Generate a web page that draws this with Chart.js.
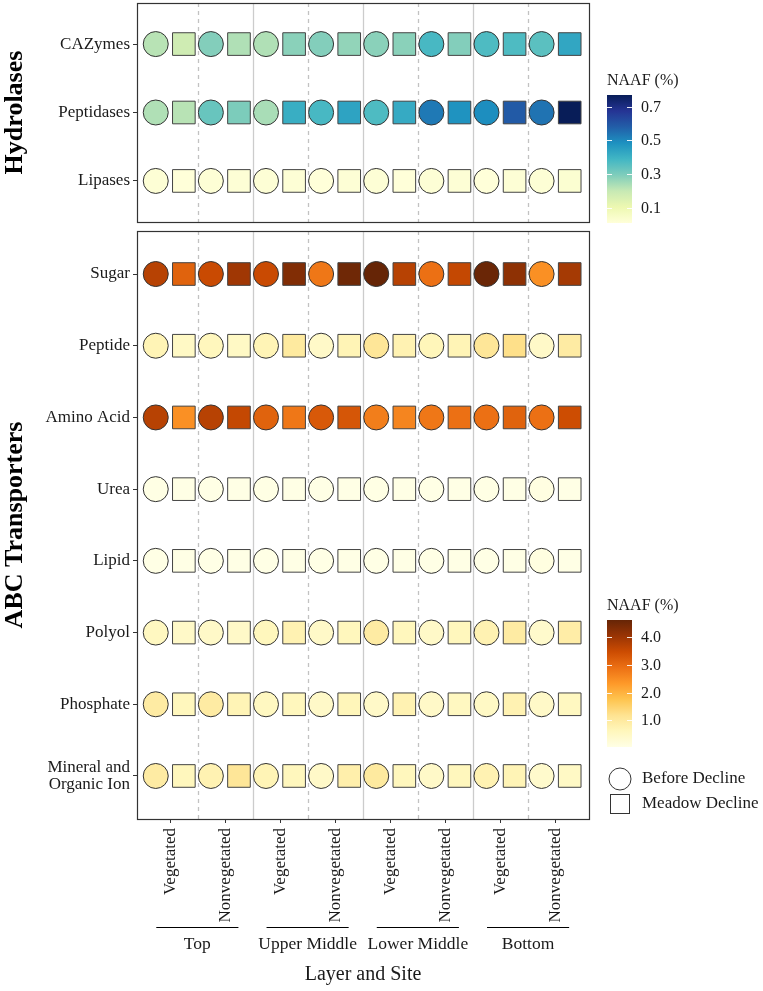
<!DOCTYPE html>
<html>
<head>
<meta charset="utf-8">
<title>NAAF - Hydrolases and ABC Transporters</title>
<script src="https://cdn.jsdelivr.net/npm/chart.js@4.4.1/dist/chart.umd.min.js"></script>
<style>
  body { margin: 0; background: #fff; }
  #wrap { position: relative; width: 763px; height: 991px; }
  canvas { position: absolute; left: 0; }
  #top { top: 0; }
  #bottom { top: 226px; }
</style>
</head>
<body>
<div id="wrap">
  <canvas id="top" width="763" height="226"></canvas>
  <canvas id="bottom" width="763" height="765"></canvas>
</div>
<script>
// categories
const layers = ["Top", "Upper Middle", "Lower Middle", "Bottom"];
const sites = ["Vegetated", "Nonvegetated"];
const hydroRows = ["CAZymes", "Peptidases", "Lipases"];
const abcRows = ["Sugar", "Peptide", "Amino Acid", "Urea", "Lipid", "Polyol", "Phosphate", ["Mineral and", "Organic Ion"]];

// NAAF (%) - columns: Top Veg, Top Nonveg, UM Veg, UM Nonveg, LM Veg, LM Nonveg, Bottom Veg, Bottom Nonveg
const hydroBefore = [
  [0.22, 0.29, 0.23, 0.29, 0.28, 0.38, 0.37, 0.35],
  [0.23, 0.33, 0.24, 0.38, 0.37, 0.53, 0.49, 0.54],
  [0.02, 0.02, 0.02, 0.01, 0.02, 0.02, 0.01, 0.02]
];
const hydroDecline = [
  [0.18, 0.23, 0.28, 0.27, 0.28, 0.29, 0.37, 0.43],
  [0.22, 0.30, 0.41, 0.44, 0.42, 0.48, 0.59, 0.77],
  [0.01, 0.02, 0.02, 0.02, 0.01, 0.02, 0.02, 0.03]
];
const abcBefore = [
  [3.7, 3.5, 3.5, 2.8, 4.6, 2.9, 4.55, 2.45],
  [0.7, 0.6, 0.7, 0.45, 1.1, 0.65, 1.1, 0.45],
  [3.7, 3.7, 3.1, 3.25, 2.7, 2.8, 2.9, 2.9],
  [0.06, 0.05, 0.06, 0.05, 0.06, 0.05, 0.06, 0.1],
  [0.05, 0.05, 0.05, 0.05, 0.05, 0.05, 0.05, 0.12],
  [0.55, 0.45, 0.6, 0.45, 0.95, 0.45, 0.75, 0.4],
  [0.95, 0.95, 0.55, 0.45, 0.45, 0.45, 0.5, 0.45],
  [0.95, 0.75, 0.7, 0.45, 1.0, 0.45, 0.75, 0.4]
];
const abcDecline = [
  [3.1, 3.95, 4.3, 4.5, 3.7, 3.55, 4.15, 3.9],
  [0.5, 0.5, 1.0, 0.7, 0.75, 0.7, 1.25, 0.95],
  [2.45, 3.55, 2.8, 3.3, 2.6, 2.9, 3.1, 3.45],
  [0.05, 0.05, 0.05, 0.05, 0.05, 0.05, 0.05, 0.05],
  [0.05, 0.05, 0.05, 0.05, 0.05, 0.05, 0.05, 0.05],
  [0.45, 0.45, 0.75, 0.6, 0.6, 0.6, 0.95, 0.9],
  [0.6, 0.7, 0.6, 0.65, 0.75, 0.55, 0.75, 0.55],
  [0.6, 1.1, 0.6, 0.85, 0.6, 0.6, 0.7, 0.5]
];
const hydroTicks = [0.1, 0.3, 0.5, 0.7];
const abcTicks = [1.0, 2.0, 3.0, 4.0];

const ylGnBu = ["#ffffd9", "#edf8b1", "#c7e9b4", "#7fcdbb", "#41b6c4", "#1d91c0", "#225ea8", "#253494", "#081d58"];
const ylOrBr = ["#ffffe5", "#fff7bc", "#fee391", "#fec44f", "#fe9929", "#ec7014", "#cc4c02", "#993404", "#662506"];

const FONT = '"Liberation Serif", "Times New Roman", serif';
const columns = [];
layers.forEach(l => sites.forEach(s => columns.push(s)));

function hexToRgb(h) {
  return [parseInt(h.slice(1, 3), 16), parseInt(h.slice(3, 5), 16), parseInt(h.slice(5, 7), 16)];
}

function colourScale(palette, vmin, vmax) {
  const rgb = palette.map(hexToRgb);
  return v => {
    let t = (v - vmin) / (vmax - vmin);
    t = Math.max(0, Math.min(1, t)) * (rgb.length - 1);
    const i = Math.min(Math.floor(t), rgb.length - 2);
    const f = t - i;
    const c = rgb[i].map((a, k) => Math.round(a + (rgb[i + 1][k] - a) * f));
    return `rgb(${c[0]},${c[1]},${c[2]})`;
  };
}

function points(values, shift) {
  const pts = [];
  values.forEach((row, r) => row.forEach((v, c) => pts.push({ x: c + shift, y: r, v: v })));
  return pts;
}

function drawColourBar(ctx, palette, vmin, vmax, ticks, x, top, bottom, titleY) {
  const w = 25;
  ctx.save();
  ctx.fillStyle = "#1a1a1a";
  ctx.font = "16px " + FONT;
  ctx.textAlign = "left";
  ctx.textBaseline = "middle";
  ctx.fillText("NAAF (%)", x, titleY);
  const g = ctx.createLinearGradient(0, bottom, 0, top);
  palette.forEach((c, i) => g.addColorStop(i / (palette.length - 1), c));
  ctx.fillStyle = g;
  ctx.fillRect(x, top, w, bottom - top);
  ctx.strokeStyle = "rgba(255,255,255,0.9)";
  ctx.lineWidth = 1;
  ticks.forEach(t => {
    const y = Math.round(bottom - (t - vmin) / (vmax - vmin) * (bottom - top)) + 0.5;
    ctx.beginPath();
    ctx.moveTo(x, y); ctx.lineTo(x + 5, y);
    ctx.moveTo(x + w - 5, y); ctx.lineTo(x + w, y);
    ctx.stroke();
    ctx.fillStyle = "#1a1a1a";
    ctx.fillText(t.toFixed(1), x + w + 9, y);
  });
  ctx.restore();
}

function panelPlugin(title, extra) {
  return {
    id: "panel",
    beforeDatasetsDraw(chart) {
      const { ctx, chartArea: a, scales: { x } } = chart;
      ctx.save();
      for (let i = 0; i < columns.length - 1; i++) {
        const px = Math.round(x.getPixelForValue(i + 0.5)) + 0.5;
        ctx.beginPath();
        if (i % 2 === 0) {
          ctx.setLineDash([4, 4]);
          ctx.strokeStyle = "#c2c2c2";
        } else {
          ctx.setLineDash([]);
          ctx.strokeStyle = "#cccccc";
        }
        ctx.lineWidth = 1.3;
        ctx.moveTo(px, a.top);
        ctx.lineTo(px, a.bottom);
        ctx.stroke();
      }
      ctx.restore();
    },
    afterDraw(chart) {
      const { ctx, chartArea: a } = chart;
      ctx.save();
      ctx.strokeStyle = "#333";
      ctx.lineWidth = 1.2;
      ctx.strokeRect(a.left + 0.5, a.top + 0.5, a.right - a.left, a.bottom - a.top);
      ctx.translate(15, (a.top + a.bottom) / 2);
      ctx.rotate(-Math.PI / 2);
      ctx.fillStyle = "#000";
      ctx.font = "bold 26px " + FONT;
      ctx.textAlign = "center";
      ctx.textBaseline = "middle";
      ctx.fillText(title, 0, 0);
      ctx.restore();
      extra(chart);
    }
  };
}

function makeChart(id, rows, before, decline, palette, opts) {
  const all = before.flat().concat(decline.flat());
  const vmin = Math.min(...all);
  const vmax = Math.max(...all);
  const col = colourScale(palette, vmin, vmax);
  const fill = c => col(c.raw.v);
  return new Chart(document.getElementById(id), {
    type: "scatter",
    data: {
      datasets: [
        {
          label: "Before Decline",
          data: points(before, -0.26),
          pointStyle: "circle",
          pointRadius: 12.5,
          pointHoverRadius: 12.5,
          backgroundColor: fill,
          borderColor: "#333",
          borderWidth: 1
        },
        {
          label: "Meadow Decline",
          data: points(decline, 0.25),
          pointStyle: "rect",
          pointRadius: 16,
          pointHoverRadius: 16,
          backgroundColor: fill,
          borderColor: "#444",
          borderWidth: 1
        }
      ]
    },
    options: {
      responsive: false,
      animation: false,
      devicePixelRatio: 1,
      events: [],
      layout: { padding: opts.padding, autoPadding: false },
      plugins: { legend: { display: false }, tooltip: { enabled: false } },
      scales: {
        x: {
          type: "linear",
          min: -0.6,
          max: columns.length - 0.4,
          display: opts.showX,
          afterBuildTicks: s => { s.ticks = columns.map((c, i) => ({ value: i })); },
          afterFit: s => {
            if (opts.xHeight) s.height = opts.xHeight;
            s.paddingLeft = 0;
            s.paddingRight = 0;
          },
          ticks: {
            autoSkip: false,
            minRotation: 90,
            maxRotation: 90,
            padding: 5,
            color: "#1a1a1a",
            font: { family: FONT, size: 17 },
            callback: v => columns[v]
          },
          grid: { drawOnChartArea: false, drawTicks: true, tickLength: 4, color: "#333" },
          border: { display: false }
        },
        y: {
          type: "linear",
          reverse: true,
          min: -0.6,
          max: rows.length - 0.4,
          afterBuildTicks: s => { s.ticks = rows.map((r, i) => ({ value: i })); },
          afterFit: s => {
            s.width = 137;
            s.paddingTop = 0;
            s.paddingBottom = 0;
          },
          ticks: {
            padding: 3,
            color: "#1a1a1a",
            font: { family: FONT, size: 17, lineHeight: 1.05 },
            callback: v => rows[v]
          },
          grid: { drawOnChartArea: false, drawTicks: true, tickLength: 4, color: "#333" },
          border: { display: false }
        }
      }
    },
    plugins: [panelPlugin(opts.title, chart => opts.extra(chart, vmin, vmax))]
  });
}

makeChart("top", hydroRows, hydroBefore, hydroDecline, ylGnBu, {
  title: "Hydrolases",
  padding: { top: 3, right: 174, bottom: 4, left: 0 },
  showX: false,
  extra: (chart, vmin, vmax) => {
    drawColourBar(chart.ctx, ylGnBu, vmin, vmax, hydroTicks, 607, 95, 223, 81);
  }
});

makeChart("bottom", abcRows, abcBefore, abcDecline, ylOrBr, {
  title: "ABC Transporters",
  padding: { top: 5, right: 174, bottom: 0, left: 0 },
  showX: true,
  xHeight: 172,
  extra: (chart, vmin, vmax) => {
    const ctx = chart.ctx;
    const x = chart.scales.x;
    drawColourBar(ctx, ylOrBr, vmin, vmax, abcTicks, 607, 394, 521, 380);

    // shape legend
    ctx.save();
    ctx.strokeStyle = "#333";
    ctx.fillStyle = "#fff";
    ctx.lineWidth = 1;
    ctx.beginPath();
    ctx.arc(620, 553, 11, 0, Math.PI * 2);
    ctx.fill(); ctx.stroke();
    ctx.fillRect(610.5, 568.5, 19, 19);
    ctx.strokeRect(610.5, 568.5, 19, 19);
    ctx.fillStyle = "#1a1a1a";
    ctx.font = "17px " + FONT;
    ctx.textAlign = "left";
    ctx.textBaseline = "middle";
    ctx.fillText("Before Decline", 642, 553);
    ctx.fillText("Meadow Decline", 642, 578);

    // layer groups under the x axis
    ctx.strokeStyle = "#000";
    ctx.lineWidth = 1;
    ctx.textAlign = "center";
    ctx.font = "17.5px " + FONT;
    layers.forEach((l, i) => {
      const x0 = x.getPixelForValue(i * 2 - 0.25);
      const x1 = x.getPixelForValue(i * 2 + 1.24);
      ctx.beginPath();
      ctx.moveTo(x0, 701.5);
      ctx.lineTo(x1, 701.5);
      ctx.stroke();
      ctx.fillText(l, (x0 + x1) / 2, 718);
    });
    ctx.font = "20px " + FONT;
    const a = chart.chartArea;
    ctx.fillText("Layer and Site", (a.left + a.right) / 2, 749);
    ctx.restore();
  }
});
</script>
</body>
</html>
